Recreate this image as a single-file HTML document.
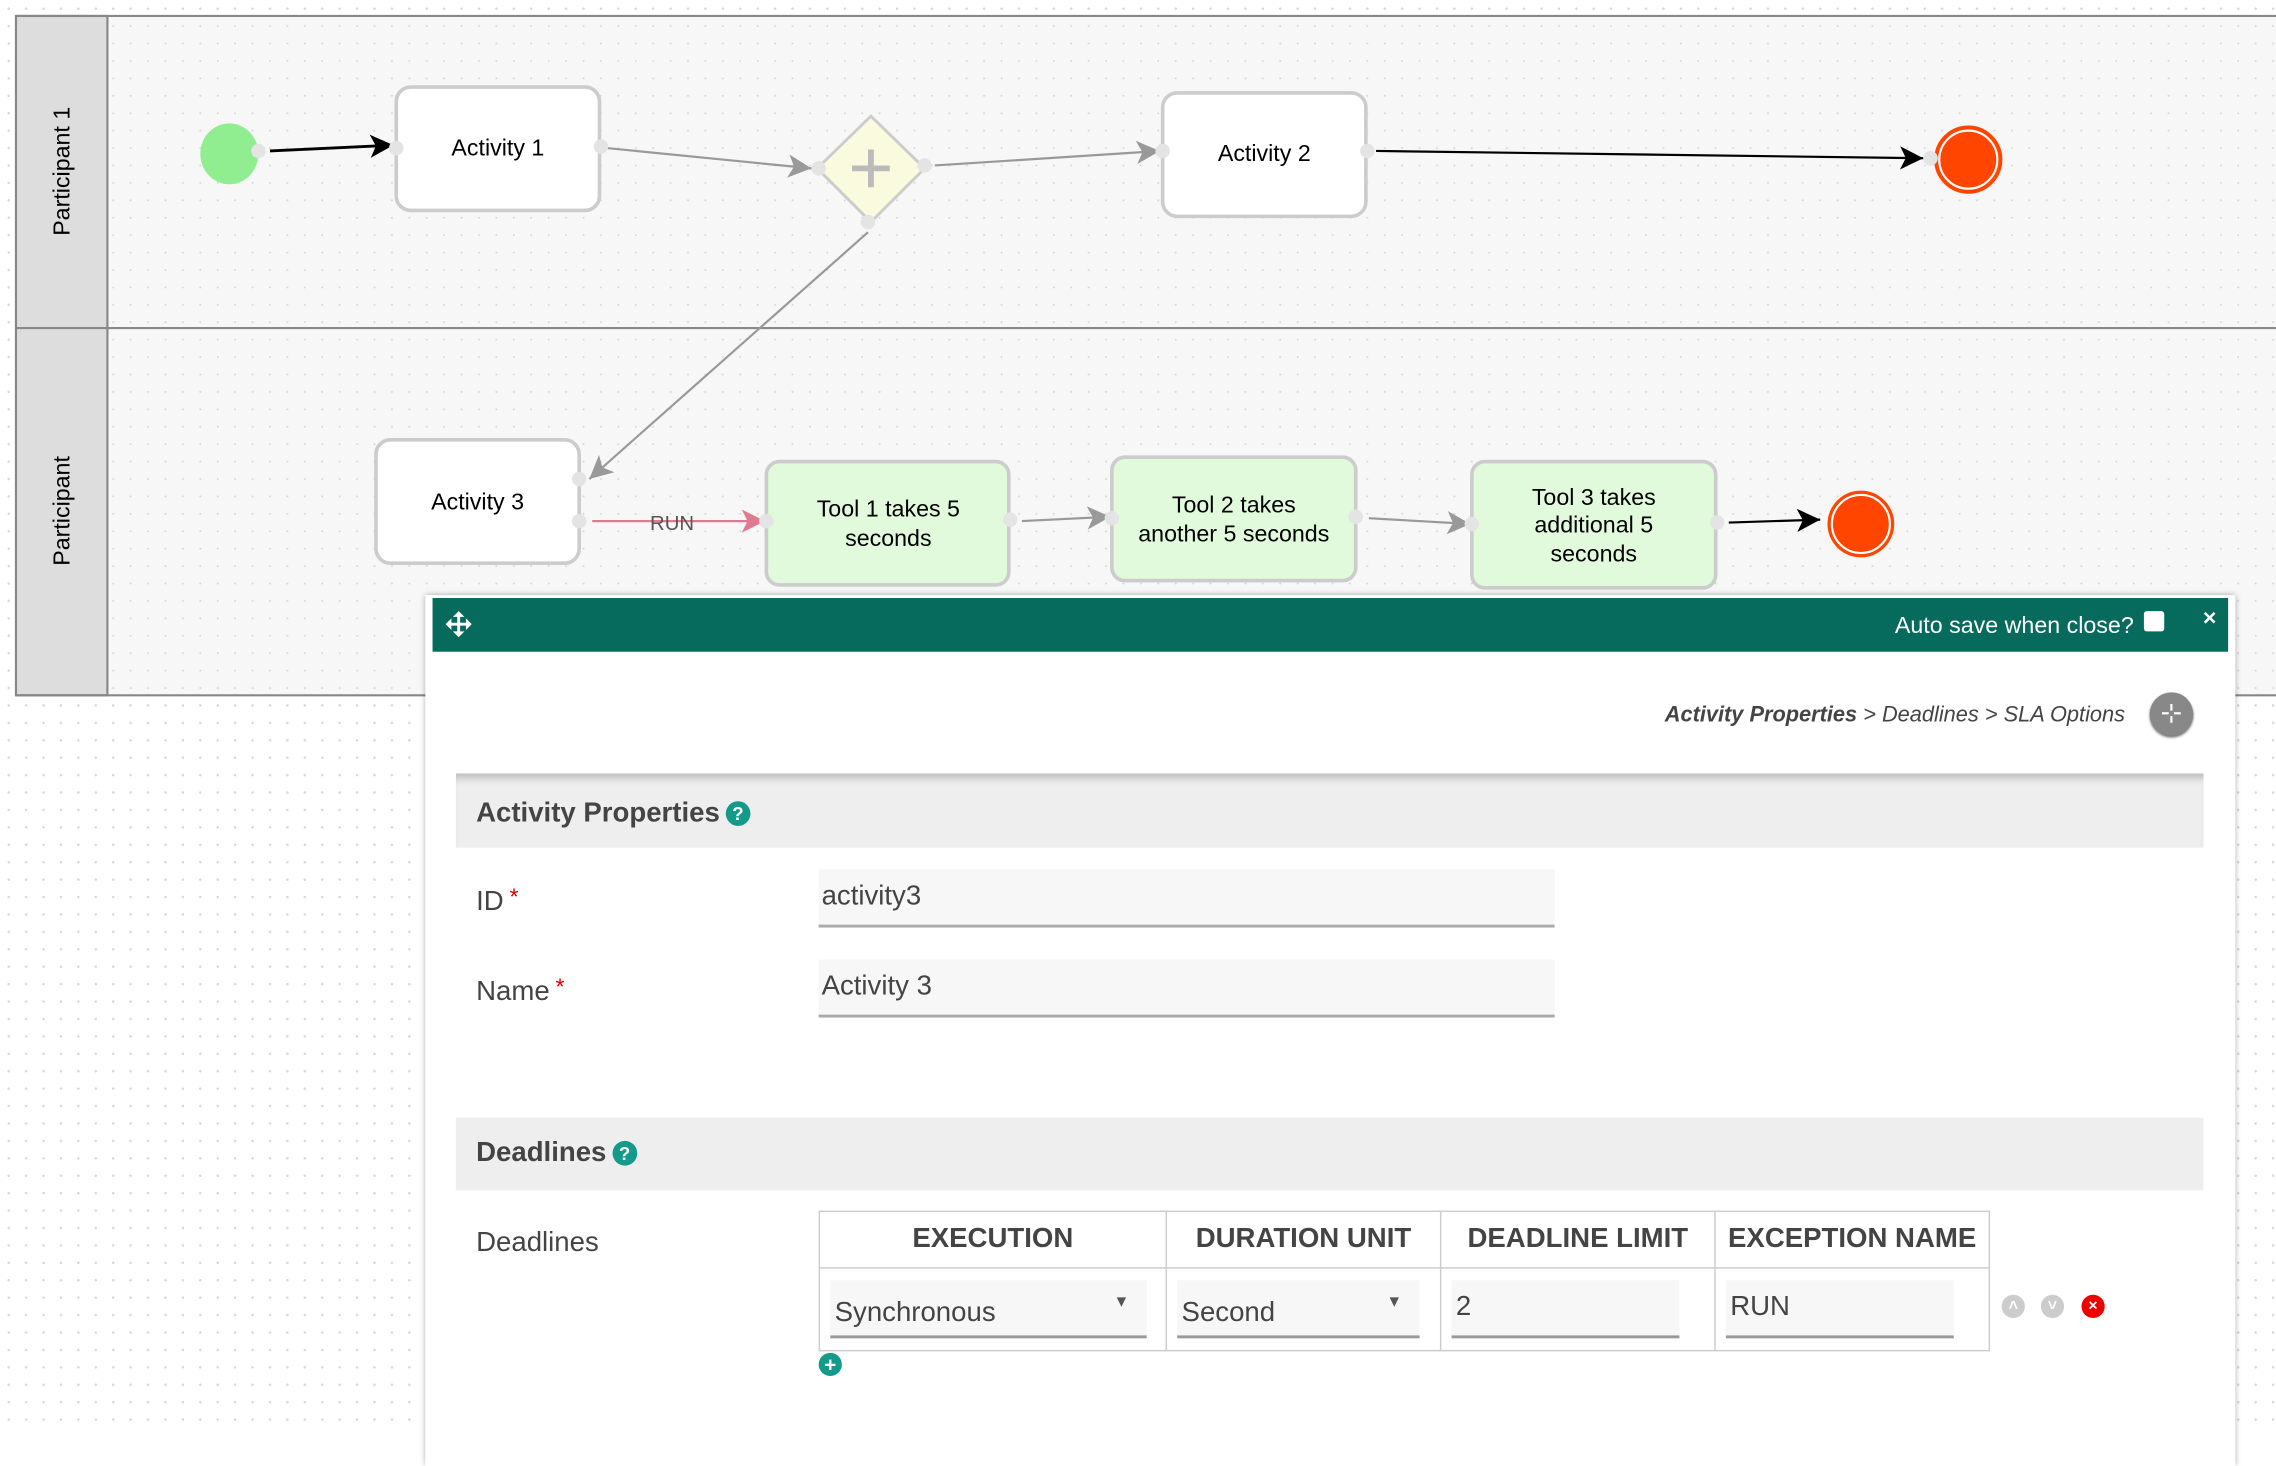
<!DOCTYPE html>
<html><head><meta charset="utf-8"><style>
html,body{margin:0;padding:0;width:2276px;height:1432px;overflow:hidden;background:#fff;font-family:"Liberation Sans",Arial,sans-serif}
#w{position:absolute;left:0;top:0;width:1568px;height:987px;transform:scale(1.45153);transform-origin:0 0;
background-color:#fff;background-image:radial-gradient(#d8d8d8 0.8px,transparent 0.9px);background-size:12px 12px}
.abs{position:absolute}
#dlg{position:absolute;left:293px;top:410px;width:1247px;height:600px;background:#fff;box-shadow:0 0 4px rgba(0,0,0,.35)}
#hdr{position:absolute;left:5px;top:2px;width:1237px;height:37px;background:#066a5c;color:#fff}
.sec{position:absolute;left:21px;width:1204px;background:#eee;font-weight:bold;font-size:19px;color:#444}
.q{display:inline-block;width:17px;height:17px;border-radius:50%;background:#139a8a;color:#fff;font-size:13px;text-align:center;line-height:17px;vertical-align:1px;margin-left:4px}
.lbl{position:absolute;left:35px;font-size:19px;color:#444}
.inp{position:absolute;left:271px;width:507px;height:40px;background:#f7f7f7;border-bottom:2px solid #aaa;font-size:19px;color:#444;line-height:38px;padding-left:2px;box-sizing:border-box}
.st{color:#d00;font-size:16px;vertical-align:4px;margin-left:4px}
table{position:absolute;left:271px;top:424px;border-collapse:collapse}
td,th{border:1.5px solid #ccc;padding:0}
th{height:38px;font-size:19px;color:#444;font-weight:bold}
td{height:56px;position:relative}
.fi{position:absolute;left:7px;top:8px;height:40px;background:#f7f7f7;border-bottom:2px solid #999;font-size:19px;color:#444;line-height:46px;padding-left:3px;box-sizing:border-box}
.ic{position:absolute;width:16px;height:16px;border-radius:50%;color:#fff;font-size:11px;text-align:center;line-height:16px;font-weight:bold}
</style></head><body><div id="w">
<svg class="abs" style="left:0;top:0" width="1568" height="987">
<defs>
<pattern id="dots" width="12" height="12" patternUnits="userSpaceOnUse"><circle cx="6" cy="6" r="0.7" fill="#d6d6d6"/></pattern>
<marker id="ab" markerWidth="10" markerHeight="10" refX="9" refY="5" orient="auto" markerUnits="userSpaceOnUse"><path d="M0,0 L10,5 L0,10 L3,5z" fill="#000"/></marker>
<marker id="ag" markerWidth="18" markerHeight="16" refX="16" refY="8" orient="auto" markerUnits="userSpaceOnUse"><path d="M0,0 L16,8 L0,16 L4,8z" fill="#999"/></marker>
<marker id="ap" markerWidth="18" markerHeight="16" refX="16" refY="8" orient="auto" markerUnits="userSpaceOnUse"><path d="M0,0 L16,8 L0,16 L4,8z" fill="#e07a90"/></marker>
<marker id="ak" markerWidth="18" markerHeight="16" refX="16" refY="8" orient="auto" markerUnits="userSpaceOnUse"><path d="M0,0 L16,8 L0,16 L4,8z" fill="#000"/></marker>
</defs>
<rect x="74" y="11" width="1494" height="468" fill="#f7f7f7"/>
<rect x="74" y="11" width="1494" height="468" fill="url(#dots)"/>
<rect x="11" y="11" width="63" height="468" fill="#ddd" stroke="#888" stroke-width="1.5"/>
<line x1="11" y1="11" x2="1568" y2="11" stroke="#888" stroke-width="1.5"/>
<line x1="11" y1="226" x2="1568" y2="226" stroke="#888" stroke-width="1.5"/>
<line x1="11" y1="479" x2="1568" y2="479" stroke="#888" stroke-width="1.5"/>
<text transform="translate(48,118) rotate(-90)" text-anchor="middle" font-size="16" fill="#000">Participant 1</text>
<text transform="translate(48,352) rotate(-90)" text-anchor="middle" font-size="16" fill="#000">Participant</text>
<!-- connectors -->
<line x1="186" y1="104" x2="271" y2="100" stroke="#000" stroke-width="2" marker-end="url(#ak)"/>
<line x1="418" y1="102" x2="559" y2="116" stroke="#999" stroke-width="1.5" marker-end="url(#ag)"/>
<line x1="644" y1="114" x2="799" y2="104" stroke="#999" stroke-width="1.5" marker-end="url(#ag)"/>
<line x1="948" y1="104" x2="1325" y2="109" stroke="#000" stroke-width="1.5" marker-end="url(#ak)"/>
<line x1="598" y1="160" x2="406" y2="330" stroke="#999" stroke-width="1.5" marker-end="url(#ag)"/>
<line x1="408" y1="359" x2="527" y2="359" stroke="#e07a90" stroke-width="1.5" marker-end="url(#ap)"/>
<text x="463" y="365" text-anchor="middle" font-size="14" fill="#555">RUN</text>
<line x1="704" y1="359" x2="765" y2="356" stroke="#999" stroke-width="1.5" marker-end="url(#ag)"/>
<line x1="943" y1="357" x2="1013" y2="361" stroke="#999" stroke-width="1.5" marker-end="url(#ag)"/>
<line x1="1191" y1="360" x2="1254" y2="358" stroke="#000" stroke-width="1.5" marker-end="url(#ak)"/>
<!-- nodes -->
<ellipse cx="158" cy="106" rx="20" ry="21" fill="#90ee90"/>
<rect x="273" y="60" width="140" height="85" rx="10" fill="#fff" stroke="#ccc" stroke-width="2.5"/>
<text x="343" y="107" text-anchor="middle" font-size="16">Activity 1</text>
<path d="M600,80 L637,116 L600,153 L563,116z" fill="#fafade" stroke="#ccc" stroke-width="2"/>
<path d="M600,103 V129 M587,116 H613" stroke="#bbb" stroke-width="4"/>
<rect x="801" y="64" width="140" height="85" rx="10" fill="#fff" stroke="#ccc" stroke-width="2.5"/>
<text x="871" y="111" text-anchor="middle" font-size="16">Activity 2</text>
<circle cx="1356" cy="110" r="23" fill="#ff4500" stroke="#ff4500" stroke-width="1"/>
<circle cx="1356" cy="110" r="20" fill="none" stroke="#fff" stroke-width="1.5"/>
<rect x="259" y="303" width="140" height="85" rx="10" fill="#fff" stroke="#ccc" stroke-width="2.5"/>
<text x="329" y="351" text-anchor="middle" font-size="16">Activity 3</text>
<rect x="528" y="318" width="167" height="85" rx="9" fill="#e1fadc" stroke="#ccc" stroke-width="2.5"/>
<text x="612" y="356" text-anchor="middle" font-size="16">Tool 1 takes 5</text>
<text x="612" y="376" text-anchor="middle" font-size="16">seconds</text>
<rect x="766" y="315" width="168" height="85" rx="9" fill="#e1fadc" stroke="#ccc" stroke-width="2.5"/>
<text x="850" y="353" text-anchor="middle" font-size="16">Tool 2 takes</text>
<text x="850" y="373" text-anchor="middle" font-size="16">another 5 seconds</text>
<rect x="1014" y="318" width="168" height="87" rx="9" fill="#e1fadc" stroke="#ccc" stroke-width="2.5"/>
<text x="1098" y="348" text-anchor="middle" font-size="16">Tool 3 takes</text>
<text x="1098" y="367" text-anchor="middle" font-size="16">additional 5</text>
<text x="1098" y="387" text-anchor="middle" font-size="16">seconds</text>
<circle cx="1282" cy="361" r="23" fill="#ff4500"/>
<circle cx="1282" cy="361" r="20" fill="none" stroke="#fff" stroke-width="1.5"/>
<!-- ports -->
<g fill="#e4e4e4">
<circle cx="178" cy="104" r="5"/><circle cx="273" cy="102" r="5"/><circle cx="414" cy="101" r="5"/>
<circle cx="564" cy="116" r="5"/><circle cx="637" cy="114" r="5"/><circle cx="598" cy="153" r="5"/>
<circle cx="801" cy="104" r="5"/><circle cx="942" cy="104" r="5"/><circle cx="1330" cy="109" r="5"/>
<circle cx="399" cy="330" r="5"/><circle cx="399" cy="359" r="5"/><circle cx="528" cy="359" r="5"/>
<circle cx="696" cy="358" r="5"/><circle cx="766" cy="357" r="5"/><circle cx="934" cy="356" r="5"/>
<circle cx="1014" cy="361" r="5"/><circle cx="1183" cy="360" r="5"/>
</g>
</svg>
<div id="dlg">
<div id="hdr">
<svg class="abs" style="left:9px;top:9px" width="18" height="18" viewBox="0 0 18 18"><path d="M9,0 L13,4 H10 V8 H14 V5 L18,9 L14,13 V10 H10 V14 H13 L9,18 L5,14 H8 V10 H4 V13 L0,9 L4,5 V8 H8 V4 H5z" fill="#fff"/></svg>
<div class="abs" style="right:65px;top:11px;font-size:16px">Auto save when close?</div>
<div class="abs" style="right:44px;top:9px;width:14px;height:14px;background:#fff;border-radius:2px"></div>
<div class="abs" style="right:8px;top:6px;font-size:16px;font-weight:bold">×</div>
</div>
<div class="abs" style="right:76px;top:74px;font-size:15px;font-style:italic;color:#444"><b>Activity Properties</b> &gt; Deadlines &gt; SLA Options</div>
<div class="abs" style="left:1188px;top:67px;width:30px;height:30px;border-radius:50%;background:#888;box-shadow:0 1px 2px #666;color:#fff;font-size:18px;text-align:center;line-height:29px">⊹</div>
<div class="sec" style="top:123px;height:51px;line-height:56px;padding-left:14px;box-sizing:border-box;box-shadow:inset 0 6px 5px -3px #bbb">Activity Properties<span class="q">?</span></div>
<div class="lbl" style="top:200px">ID<span class="st">*</span></div>
<div class="inp" style="top:189px">activity3</div>
<div class="lbl" style="top:262px">Name<span class="st">*</span></div>
<div class="inp" style="top:251px">Activity 3</div>
<div class="sec" style="top:360px;height:50px;line-height:50px;padding-left:14px;box-sizing:border-box">Deadlines<span class="q">?</span></div>
<div class="lbl" style="top:436px">Deadlines</div>
<table>
<tr><th style="width:238px">EXECUTION</th><th style="width:188px">DURATION UNIT</th><th style="width:188px">DEADLINE LIMIT</th><th style="width:188px">EXCEPTION NAME</th></tr>
<tr><td><div class="fi" style="width:218px">Synchronous<span style="position:absolute;right:12px;top:-8px;font-size:11px;color:#555">▼</span></div></td>
<td><div class="fi" style="width:167px">Second<span style="position:absolute;right:12px;top:-8px;font-size:11px;color:#555">▼</span></div></td>
<td><div class="fi" style="width:157px;line-height:38px">2</div></td>
<td><div class="fi" style="width:157px;line-height:38px">RUN</div></td></tr>
</table>
<div class="ic" style="left:1086px;top:482px;background:#ccc">˄</div>
<div class="ic" style="left:1113px;top:482px;background:#ccc">˅</div>
<div class="ic" style="left:1141px;top:482px;background:#e00">×</div>
<div class="ic" style="left:271px;top:522px;background:#139a8a;font-size:14px">+</div>
</div>
</div></body></html>
